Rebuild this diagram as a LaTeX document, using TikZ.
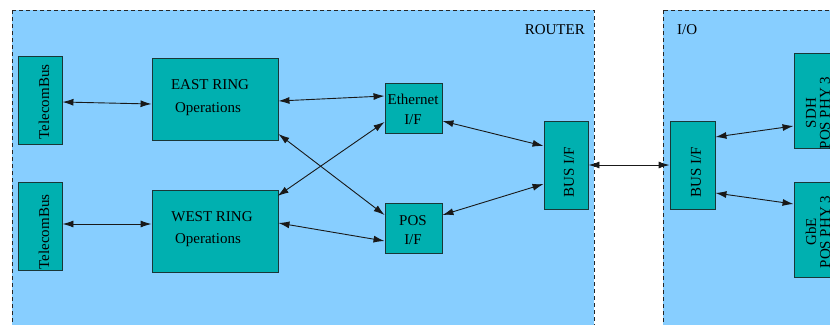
\documentclass[tikz,border=0pt]{standalone}
\usepackage{fontspec}
\setmainfont{Liberation Serif}
\usetikzlibrary{arrows.meta,calc}
\definecolor{bgblue}{RGB}{135,206,255}
\definecolor{boxteal}{RGB}{0,176,176}
\definecolor{boxline}{RGB}{25,55,55}
\begin{document}
\begin{tikzpicture}[x=1pt,y=-1pt,
  every node/.style={font=\fontsize{15}{15}\selectfont, text=black},
  frame/.style={fill=bgblue, draw=black!85, dash pattern=on 4pt off 3pt, line width=0.8pt},
  blk/.style={draw=boxline, fill=boxteal, line width=0.9pt, inner sep=0pt},
  txt/.style={inner sep=0pt},
  link/.style={draw=black!90, line width=0.9pt, {Latex[length=11pt,width=7pt]}-{Latex[length=11pt,width=7pt]}}]
\useasboundingbox (0,0) rectangle (830,324);
\clip (0,0) rectangle (830,324);
% frames
\path[frame] (12,10) rectangle (594,340);
\path[frame] (663,10) rectangle (850,340);
\node[txt, anchor=east] (routerlbl) at (585,30) {ROUTER};
\node[txt, anchor=west] (iolbl) at (677,30) {I/O};
% blocks
\node[blk, minimum width=44, minimum height=88] (tb1) at (40,100) {};
\node[blk, minimum width=44, minimum height=88] (tb2) at (40,226) {};
\node[blk, minimum width=126, minimum height=82] (east) at (215,99) {};
\node[blk, minimum width=126, minimum height=82] (west) at (215,231) {};
\node[blk, minimum width=57, minimum height=50] (eth) at (413.5,108) {};
\node[blk, minimum width=57, minimum height=50] (pos) at (413.5,228) {};
\node[blk, minimum width=44, minimum height=88] (rbus) at (566,165) {};
\node[blk, minimum width=45, minimum height=88] (iobus) at (692.5,165) {};
\node[blk, minimum width=46, minimum height=95] (sdh) at (817,100.5) {};
\node[blk, minimum width=46, minimum height=95] (gbe) at (817,230) {};
% texts
\node[txt, rotate=90] (tb1t) at (44,102) {TelecomBus};
\node[txt, rotate=90] (tb2t) at (44,232) {TelecomBus};
\node[txt] (eastt1) at (210,85) {EAST RING};
\node[txt] (eastt2) at (208,109) {Operations};
\node[txt] (westt1) at (212,217) {WEST RING};
\node[txt] (westt2) at (208,240) {Operations};
\node[txt] (etht1) at (413,99) {Ethernet};
\node[txt] (etht2) at (413,120) {I/F};
\node[txt] (post1) at (413,221) {POS};
\node[txt] (post2) at (413,240) {I/F};
\node[txt, rotate=90] (rbust) at (569,172) {BUS I/F};
\node[txt, rotate=90] (iobust) at (696,172) {BUS I/F};
\node[txt, rotate=90, align=center] (sdht) at (818,113) {SDH\\[-1pt]POS PHY 3};
\node[txt, rotate=90, align=center] (gbet) at (818,232) {GbE\\[-1pt]POS PHY 3};
% links
\path[link] ($(tb1.east)+(0,2)$) -- ($(east.west)+(0,5)$);
\path[link] ($(tb2.east)+(0,-2)$) -- ($(west.west)+(0,-7)$);
\path[link] ($(east.east)+(0,2)$) -- ($(eth.west)+(0,-12)$);
\path[link] ($(east.east)+(0,35)$) -- ($(pos.west)+(0,-13)$);
\path[link] ($(west.west)+(126,-35)$) -- ($(eth.west)+(0,14)$);
\path[link] ($(west.east)+(0,-8)$) -- ($(pos.west)+(0,13)$);
\path[link] ($(eth.east)+(0,13)$) -- ($(rbus.west)+(0,-19)$);
\path[link] ($(pos.east)+(0,-13)$) -- ($(rbus.west)+(0,19)$);
\path[link] (rbus.east) -- (iobus.west);
\path[link] ($(iobus.east)+(0,-28)$) -- ($(sdh.west)+(0,25.5)$);
\path[link] ($(iobus.east)+(0,28)$) -- ($(gbe.west)+(0,-26)$);
\end{tikzpicture}
\end{document}
